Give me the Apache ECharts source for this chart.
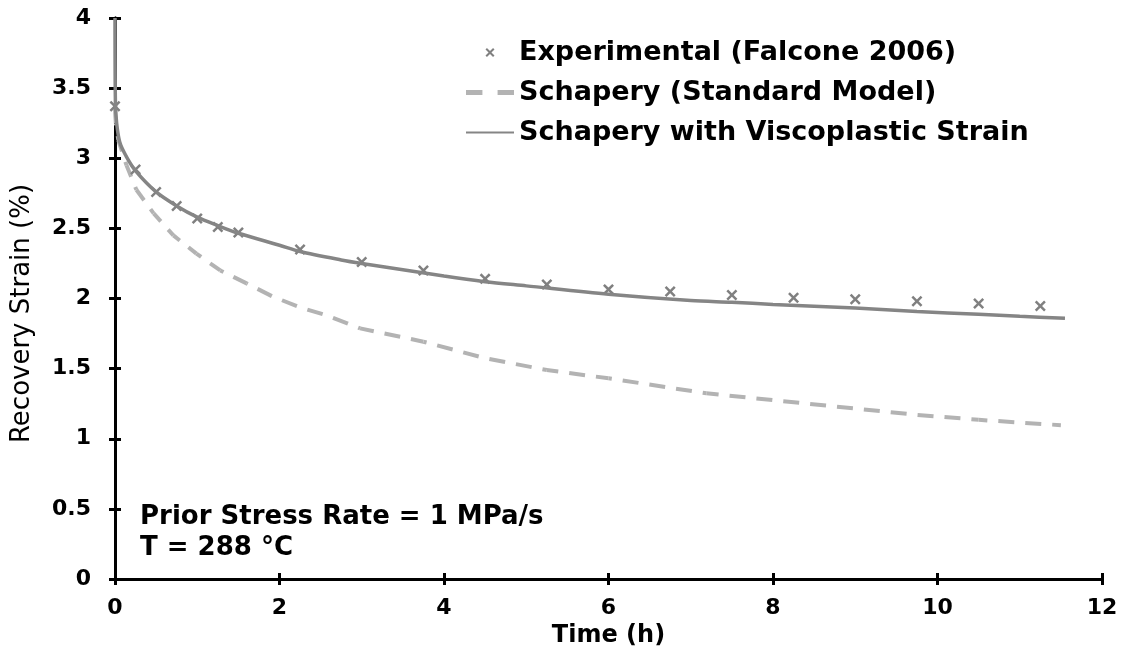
<!DOCTYPE html>
<html lang="en">
<head>
    <meta charset="UTF-8">
    <script src="https://cdn.jsdelivr.net/npm/echarts@6/dist/echarts.min.js"></script>
    <style>
        html, body { margin: 0; padding: 0; background: #fff; }
        #chart { width: 1126px; height: 656px; }
    </style>
</head>
<body>
    <div id="chart"></div>
    <script>
        // experimental recovery data
        const expTime = [0, 0.25, 0.5, 0.75, 1, 1.25, 1.5, 2.25, 3, 3.75, 4.5, 5.25, 6, 6.75, 7.5, 8.25, 9, 9.75, 10.5, 11.25];
        const expStrain = [3.37, 2.92, 2.76, 2.66, 2.57, 2.51, 2.47, 2.35, 2.26, 2.2, 2.14, 2.1, 2.065, 2.05, 2.025, 2.005, 1.995, 1.98, 1.965, 1.947];

        // Schapery standard model (dashed)
        const stdTime = [0, 0.01, 0.04, 0.14, 0.26, 0.47, 0.71, 0.99, 1.28, 1.6, 1.92, 2.25, 2.57, 2.98, 3.75, 4.5, 5.25, 6, 7.19, 8, 9, 9.75, 10.5, 11.33, 11.5];
        const stdStrain = [3.35, 3.25, 3.13, 2.95, 2.775, 2.607, 2.45, 2.32, 2.2, 2.108, 2.013, 1.937, 1.88, 1.787, 1.692, 1.574, 1.49, 1.431, 1.324, 1.275, 1.215, 1.17, 1.135, 1.103, 1.097];

        // Schapery with viscoplastic strain (solid)
        const vpTime = [0, 0.005, 0.02, 0.06, 0.14, 0.25, 0.5, 0.75, 1, 1.25, 1.5, 2, 2.25, 2.75, 3, 4, 4.5, 5, 6, 7, 7.5, 8, 9, 9.75, 10.5, 11, 11.55];
        const vpStrain = [4.0, 3.4, 3.25, 3.11, 3.01, 2.91, 2.76, 2.66, 2.58, 2.52, 2.465, 2.38, 2.335, 2.275, 2.25, 2.16, 2.12, 2.09, 2.03, 1.985, 1.973, 1.958, 1.932, 1.907, 1.888, 1.873, 1.859];

        const pairs = (xs, ys) => xs.map((x, i) => [x, ys[i]]);

        const crossPath = 'path://M0,1.6L1.6,0L5,3.4L8.4,0L10,1.6L6.6,5L10,8.4L8.4,10L5,6.6L1.6,10L0,8.4L3.4,5Z';
        const dashIcon = 'path://M0,0H13V4H0Z M25,0H38V4H25Z';
        const dashOn = 16, dashOff = 11;
        const labelFont = { fontFamily: 'DejaVu Sans', fontWeight: 'bold', fontSize: 22, color: '#000' };
        const frameLine = { show: true, lineStyle: { color: '#000', width: 3 } };
        const frameTick = { show: true, inside: true, length: 6, lineStyle: { color: '#000', width: 3 } };

        const chart = echarts.init(document.getElementById('chart'));

        // dashed model curve: each data segment cut into dash pieces, phase carried along
        function renderDashed(params, api) {
            const i = params.dataIndex;
            if (i === 0) return null;
            let offset = 0;
            for (let j = 1; j < i; j++) {
                const a = api.coord([stdTime[j - 1], stdStrain[j - 1]]);
                const b = api.coord([stdTime[j], stdStrain[j]]);
                offset += Math.hypot(b[0] - a[0], b[1] - a[1]);
            }
            const p0 = api.coord([stdTime[i - 1], stdStrain[i - 1]]);
            const p1 = api.coord([stdTime[i], stdStrain[i]]);
            const len = Math.hypot(p1[0] - p0[0], p1[1] - p0[1]);
            if (len === 0) return null;
            const ux = (p1[0] - p0[0]) / len, uy = (p1[1] - p0[1]) / len;
            const period = dashOn + dashOff;
            const children = [];
            let pos = -(offset % period);
            while (pos < len) {
                const s = Math.max(pos, 0), e = Math.min(pos + dashOn, len);
                if (e > s) {
                    children.push({
                        type: 'line',
                        shape: { x1: p0[0] + ux * s, y1: p0[1] + uy * s, x2: p0[0] + ux * e, y2: p0[1] + uy * e },
                        style: { stroke: '#b3b3b3', lineWidth: 4 }
                    });
                }
                pos += period;
            }
            return { type: 'group', children: children };
        }

        chart.setOption({
            animation: false,
            grid: { left: 115, right: 24, top: 18, bottom: 77 },
            legend: {
                orient: 'vertical',
                left: 465,
                top: 39,
                padding: 0,
                itemWidth: 48,
                itemHeight: 9,
                itemGap: 13,
                data: [
                    { name: 'Experimental (Falcone 2006)' },
                    { name: 'Schapery (Standard Model)', icon: dashIcon },
                    { name: 'Schapery with Viscoplastic Strain' }
                ],
                textStyle: { fontFamily: 'DejaVu Sans', fontWeight: 'bold', fontSize: 27, color: '#000' }
            },
            xAxis: [{
                type: 'value', min: 0, max: 12, interval: 2,
                name: 'Time (h)', nameLocation: 'middle', nameGap: 45,
                nameTextStyle: { fontFamily: 'DejaVu Sans', fontWeight: 'bold', fontSize: 24, color: '#000' },
                axisLine: frameLine, axisTick: frameTick,
                axisLabel: Object.assign({ margin: 18 }, labelFont),
                splitLine: { show: false }
            }, {
                type: 'value', min: 0, max: 12, interval: 2, position: 'top',
                axisLine: frameLine, axisTick: frameTick,
                axisLabel: { show: false }, splitLine: { show: false }
            }],
            yAxis: [{
                type: 'value', min: 0, max: 4, interval: 0.5,
                name: 'Recovery Strain (%)', nameLocation: 'middle', nameGap: 80,
                nameTextStyle: { fontFamily: 'DejaVu Sans', fontSize: 26, color: '#000', padding: [0, 30, 0, 0] },
                axisLine: frameLine, axisTick: frameTick,
                axisLabel: Object.assign({ margin: 24 }, labelFont),
                splitLine: { show: false }
            }, {
                type: 'value', min: 0, max: 4, interval: 0.5, position: 'right',
                axisLine: frameLine, axisTick: frameTick,
                axisLabel: { show: false }, splitLine: { show: false }
            }],
            graphic: [{
                type: 'text', left: 140, top: 502,
                style: {
                    text: 'Prior Stress Rate = 1 MPa/s\nT = 288 °C',
                    fontFamily: 'DejaVu Sans', fontWeight: 'bold', fontSize: 26,
                    lineHeight: 31, fill: '#000'
                }
            }],
            series: [{
                name: 'Schapery (Standard Model)',
                type: 'custom',
                data: pairs(stdTime, stdStrain),
                encode: { x: 0, y: 1 },
                clip: false,
                silent: true,
                itemStyle: { color: '#b3b3b3' },
                renderItem: renderDashed
            }, {
                name: 'Schapery with Viscoplastic Strain',
                type: 'line',
                data: pairs(vpTime, vpStrain),
                symbol: 'none',
                smooth: 0.3,
                lineStyle: { color: '#858585', width: 3.5 },
                itemStyle: { color: 'rgba(0,0,0,0)' }
            }, {
                name: 'Experimental (Falcone 2006)',
                type: 'scatter',
                data: pairs(expTime, expStrain),
                symbol: crossPath,
                symbolSize: 11,
                symbolKeepAspect: true,
                itemStyle: { color: '#808080', opacity: 1 }
            }]
        });
    </script>
</body>
</html>
